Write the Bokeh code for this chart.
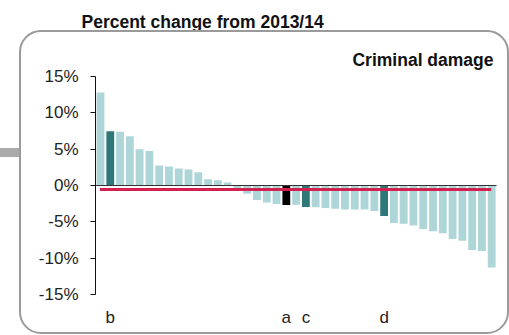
from bokeh.plotting import figure
from bokeh.models import FixedTicker, Label, Range1d, InlineStyleSheet
from bokeh.embed import file_html
from bokeh.resources import INLINE

# ---- data ----
values = [12.8, 7.45, 7.4, 6.77, 4.98, 4.76, 2.74, 2.6, 2.33, 2.19,
          1.83, 0.87, 0.73, 0.41, -0.46, -1.14, -2.0, -2.33, -2.56, -2.7,
          -2.65, -2.97, -3.0, -3.1, -3.2, -3.3, -3.3, -3.3, -3.52, -4.2,
          -5.17, -5.26, -5.49, -5.99, -6.31, -6.58, -7.36, -7.59, -8.87, -9.0,
          -11.3]
bar_index = list(range(1, len(values) + 1))
marker_bars = [2, 20, 22, 30]
marker_labels = ["b", "a", "c", "d"]
marker_colors = ["#2e787a", "#000000", "#2e787a", "#2e787a"]
base_color = "#aed6d9"
average_change = -0.55
y_ticks = [-15, -10, -5, 0, 5, 10, 15]
y_tick_labels = ["-15%", "-10%", "-5%", "0%", "5%", "10%", "15%"]
title_text = "Percent change from 2013/14"
panel_label = "Criminal damage"

colors = [base_color] * len(values)
for b, c in zip(marker_bars, marker_colors):
    colors[b - 1] = c

# ---- layout ----
W, H = 509, 335
PITCH = 9.78
FRAME_LEFT = 95
FRAME_TOP = 40
FRAME_BOTTOM = 294
PPU = 218.0 / 30.0            # pixels per percentage point
x0 = 1 - 5 / PITCH
x1 = x0 + (W - FRAME_LEFT) / PITCH
y0 = -15
y1 = y0 + (FRAME_BOTTOM - FRAME_TOP) / PPU

def px_x(page_x):
    return 1 + (page_x - 100) / PITCH

def px_y(page_y):
    return y0 + (FRAME_BOTTOM - page_y) / PPU

css = InlineStyleSheet(css="""
:host { position: relative; }
:host::after {
  content: ""; position: absolute; left: 19px; top: 30px; width: 490px; height: 304px;
  box-sizing: border-box; border: 2px solid #9a9a9a; border-radius: 22px;
  pointer-events: none;
}
:host::before {
  content: ""; position: absolute; left: 0px; top: 148px; width: 19px; height: 9px;
  background: #aaaaaa; pointer-events: none;
}
""")

p = figure(width=W, height=H, output_backend="svg", toolbar_location=None,
           title=title_text,
           x_range=Range1d(x0, x1), y_range=Range1d(y0, y1),
           min_border_left=FRAME_LEFT, min_border_right=0,
           min_border_top=FRAME_TOP, min_border_bottom=H - FRAME_BOTTOM,
           stylesheets=[css])
p.outline_line_color = None
p.grid.visible = False
p.background_fill_color = None
p.border_fill_color = None

p.title.text_font = "Liberation Sans"
p.title.text_font_style = "bold"
p.title.text_font_size = "17.5px"
p.title.text_color = "#111111"
p.title.align = "left"
p.title.offset = -14
p.title.standoff = 18

p.vbar(x=bar_index, top=values, width=0.8, fill_color=colors, line_color=None)
p.segment(x0=[bar_index[0] - 0.5], y0=[0], x1=[bar_index[-1] + 0.5], y1=[0],
          line_color="#333333", line_width=1)
p.segment(x0=[bar_index[0] - 0.07], y0=[average_change], x1=[bar_index[-1] - 0.05],
          y1=[average_change], line_color="#d2214e", line_width=3)

# y axis
ya = p.yaxis[0]
ya.ticker = FixedTicker(ticks=y_ticks)
ya.major_label_overrides = dict(zip(y_ticks, y_tick_labels))
ya.bounds = (-15, 15)
ya.axis_line_color = "#111111"
ya.major_tick_line_color = "#111111"
ya.major_tick_out = 5
ya.major_tick_in = 0
ya.minor_tick_line_color = None
ya.major_label_standoff = 12
ya.major_label_text_font = "Liberation Sans"
ya.major_label_text_font_size = "17px"
ya.major_label_text_color = "#222222"

# x axis with marker letters
xa = p.xaxis[0]
xa.ticker = FixedTicker(ticks=marker_bars)
xa.major_label_overrides = dict(zip(marker_bars, marker_labels))
xa.axis_line_color = None
xa.major_tick_line_color = None
xa.minor_tick_line_color = None
xa.major_tick_out = 0
xa.major_tick_in = 0
xa.major_label_standoff = 13
xa.major_label_text_font = "Liberation Sans"
xa.major_label_text_font_size = "17px"
xa.major_label_text_color = "#222222"

p.add_layout(Label(x=px_x(493), y=px_y(59), text=panel_label,
                   text_font="Liberation Sans", text_font_style="bold",
                   text_font_size="17.5px", text_color="#111111",
                   text_align="right", text_baseline="alphabetic"))

open("out.html", "w").write(file_html(p, INLINE))
